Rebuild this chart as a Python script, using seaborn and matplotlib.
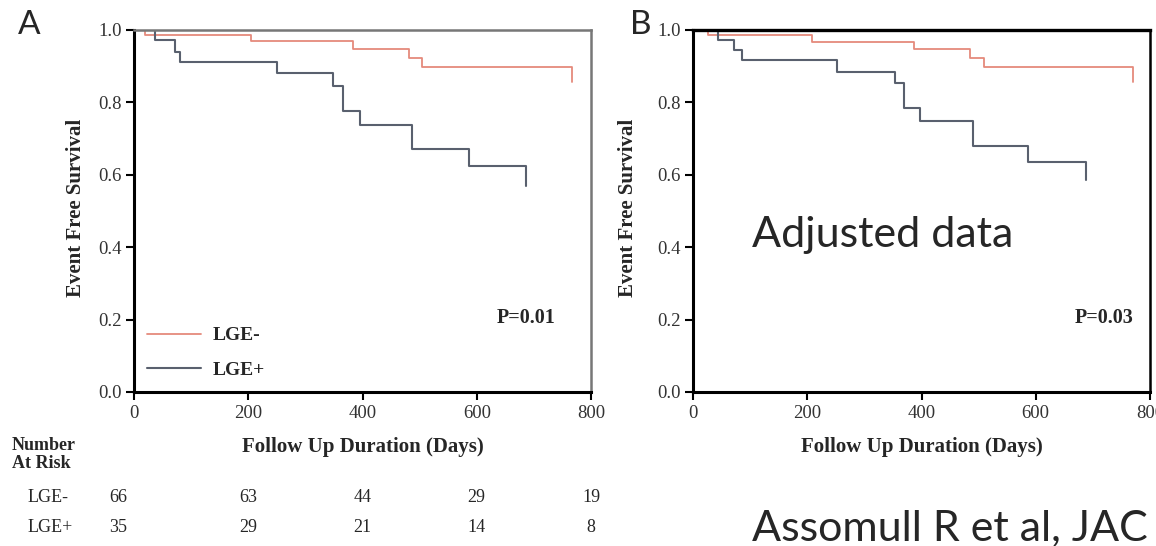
import pandas as pd
import matplotlib.pyplot as plt
import matplotlib.transforms as mtransforms
import seaborn as sns

# Kaplan-Meier step values (days, event free survival)
a_neg_days = [0, 20, 205, 383, 482, 505, 767]
a_neg_surv = [1.0, 0.986, 0.970, 0.947, 0.922, 0.899, 0.857]
a_pos_days = [0, 37, 71, 81, 250, 349, 366, 396, 487, 587, 686]
a_pos_surv = [1.0, 0.972, 0.940, 0.912, 0.882, 0.846, 0.777, 0.738, 0.670, 0.624, 0.569]

b_neg_days = [0, 26, 208, 387, 485, 509, 770]
b_neg_surv = [1.0, 0.986, 0.968, 0.947, 0.924, 0.899, 0.857]
b_pos_days = [0, 44, 72, 85, 252, 353, 370, 398, 490, 586, 688]
b_pos_surv = [1.0, 0.972, 0.945, 0.916, 0.885, 0.853, 0.784, 0.749, 0.680, 0.635, 0.586]

groups = ['LGE-', 'LGE+']
p_values = ['P=0.01', 'P=0.03']
risk_days = [0, 200, 400, 600, 800]
risk_neg = [66, 63, 44, 29, 19]
risk_pos = [35, 29, 21, 14, 8]

sns.set_style('white')
plt.rcParams['font.family'] = ['Liberation Serif', 'DejaVu Serif']

W, H = 1156, 546
fig = plt.figure(figsize=(W / 100, H / 100), dpi=100)

colors = {'LGE-': '#e58a7c', 'LGE+': '#59606e'}


def make_df(neg_d, neg_s, pos_d, pos_s):
    df1 = pd.DataFrame({'days': neg_d, 'surv': neg_s, 'group': 'LGE-'})
    df2 = pd.DataFrame({'days': pos_d, 'surv': pos_s, 'group': 'LGE+'})
    return pd.concat([df1, df2], ignore_index=True)


def draw_panel(left_px, df, pval, pval_x, top_col):
    ax = fig.add_axes([left_px / W, 1 - 392 / H, 457 / W, 362 / H])
    for g in groups:
        sub = df[df['group'] == g]
        sns.lineplot(data=sub, x='days', y='surv', ax=ax, color=colors[g],
                     drawstyle='steps-post', estimator=None, sort=False,
                     linewidth=1.3 if g == 'LGE-' else 1.5, label=g)
    ax.set_xlim(0, 800)
    ax.set_ylim(0, 1.0)
    ax.set_xticks(risk_days)
    ax.set_yticks([0, 0.2, 0.4, 0.6, 0.8, 1.0])
    ax.set_yticklabels(['0.0', '0.2', '0.4', '0.6', '0.8', '1.0'])
    ax.tick_params(axis='both', direction='out', length=6, width=1.5,
                   labelsize=13.5, labelcolor='#333333', color='black',
                   left=True, bottom=True, pad=3)
    for s in ['left', 'bottom']:
        ax.spines[s].set_color('black')
        ax.spines[s].set_linewidth(2.2)
    for s in ['top', 'right']:
        ax.spines[s].set_color(top_col)
        ax.spines[s].set_linewidth(1.8)
    ax.set_xlabel('Follow Up Duration (Days)', fontsize=15, fontweight='bold')
    ax.set_ylabel('Event Free Survival', fontsize=15, fontweight='bold')
    ax.xaxis.set_label_coords(0.5, -0.125)
    ax.text(pval_x, 0.204, pval, transform=ax.transAxes, ha='center',
            va='center', fontsize=14.5, fontweight='bold')
    return ax


df_a = make_df(a_neg_days, a_neg_surv, a_pos_days, a_pos_surv)
df_b = make_df(b_neg_days, b_neg_surv, b_pos_days, b_pos_surv)

ax_a = draw_panel(134, df_a, p_values[0], 0.858, '#777777')
ax_a.yaxis.set_label_coords(-0.105, 0.51)
handles, labels = ax_a.get_legend_handles_labels()
ax_a.legend(handles, labels, loc='upper left', bbox_to_anchor=(0.028, 0.18),
            frameon=False, borderaxespad=0, borderpad=0, handlelength=2.8,
            handletextpad=0.6, labelspacing=0.85,
            prop={'family': 'Liberation Serif', 'weight': 'bold', 'size': 14})

ax_b = draw_panel(693, df_b, p_values[1], 0.90, 'black')
ax_b.yaxis.set_label_coords(-0.12, 0.51)
ax_b.get_legend().remove()
ax_b.spines['top'].set_linewidth(2.4)

# panel letters
sans = ['Lato', 'DejaVu Sans']
fig.text(18 / W, 1 - 34 / H, 'A', fontsize=24, family=sans, va='baseline')
fig.text(630 / W, 1 - 34 / H, 'B', fontsize=24, family=sans, va='baseline')

# annotation text
fig.text(752 / W, 1 - 247 / H, 'Adjusted data', fontsize=31, family=sans,
         va='baseline')
fig.text(752 / W, 1 - 540 / H, 'Assomull R et al, JAC', fontsize=31,
         family=sans, va='baseline')

# number at risk table
fig.text(12 / W, 1 - 445 / H, 'Number', fontsize=13, fontweight='bold',
         va='center')
fig.text(12 / W, 1 - 464 / H, 'At Risk', fontsize=13, fontweight='bold',
         va='center')
fig.text(28 / W, 1 - 497 / H, 'LGE-', fontsize=13, va='center')
fig.text(28 / W, 1 - 528 / H, 'LGE+', fontsize=13, va='center')
trans = mtransforms.blended_transform_factory(ax_a.transData, fig.transFigure)
for i, d in enumerate(risk_days):
    x = d - 28 if i == 0 else d
    fig.text(x, 1 - 497 / H, str(risk_neg[i]), transform=trans, ha='center',
             va='center', fontsize=13)
    fig.text(x, 1 - 528 / H, str(risk_pos[i]), transform=trans, ha='center',
             va='center', fontsize=13)

fig.savefig('out.png', dpi=100)
